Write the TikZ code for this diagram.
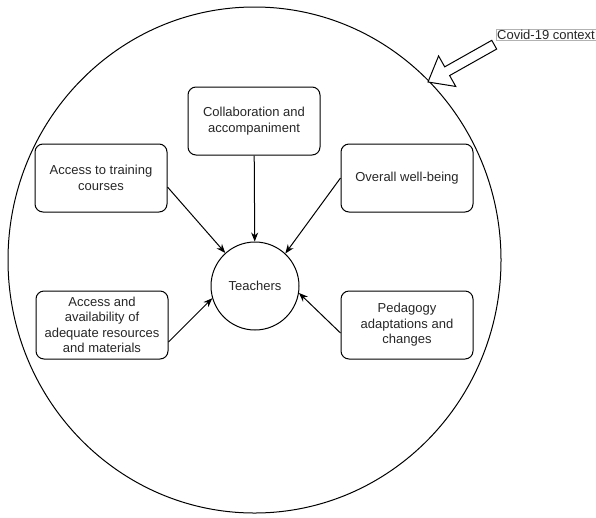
\documentclass[tikz,border=0pt]{standalone}
\usepackage{fontspec}
\setmainfont{Liberation Sans}
\usetikzlibrary{arrows.meta}
\begin{document}
\begin{tikzpicture}
    [
        x=1pt, y=-1pt,
        factor/.style={rectangle, draw, rounded corners=8pt, line width=1pt,
            minimum width=132pt, minimum height=68pt, align=center,
            text=black!85, font=\fontsize{13}{15.5}\selectfont},
        link/.style={line width=1pt, -{Stealth[length=9pt,width=7pt]}},
    ]
    \useasboundingbox (0,0) rectangle (596,517);
    \draw[line width=1pt] (254.5,260) ellipse [x radius=246.5, y radius=253];

    \node (teach) at (255,286) [
        circle,
        draw,
        line width=1pt,
        minimum size=88pt,
        inner sep=0pt,
        text=black!85,
        font=\fontsize{13}{15.5}\selectfont,
    ] {Teachers};

    \node (collab) at (254,121) [factor] {Collaboration and\\accompaniment};
    \node (train) at (101,178) [factor] {Access to training\\courses};
    \node (well) at (407,178) [factor] {Overall well-being};
    \node (avail) at (102,325) [factor] {Access and\\availability of\\adequate resources\\and materials};
    \node (peda) at (407,325) [factor] {Pedagogy\\adaptations and\\changes};

    \draw[link] (collab) -- (teach);
    \draw[link] ([yshift=-9pt]train.east) -- (teach.132);
    \draw[link] (well.west) -- (teach.47);
    \draw[link] ([yshift=-17pt]avail.east) -- (teach.196);
    \draw[link] ([yshift=-8pt]peda.west) -- (teach.-9);

    \node (covid) at (546,34.5) [
        rectangle,
        draw=black!30,
        fill=white,
        inner sep=1pt,
        text=black!85,
        font=\fontsize{13}{15}\selectfont,
    ] {Covid-19 context};
    \coordinate (tip) at (428,82);
    \draw[line width=1pt, fill=white, shift={(tip)}, rotate=29.4]
        (0,0) -- (22,17.5) -- (22,5) -- (76,5) -- (76,-5) -- (22,-5) -- (22,-17.5) -- cycle;
\end{tikzpicture}
\end{document}
